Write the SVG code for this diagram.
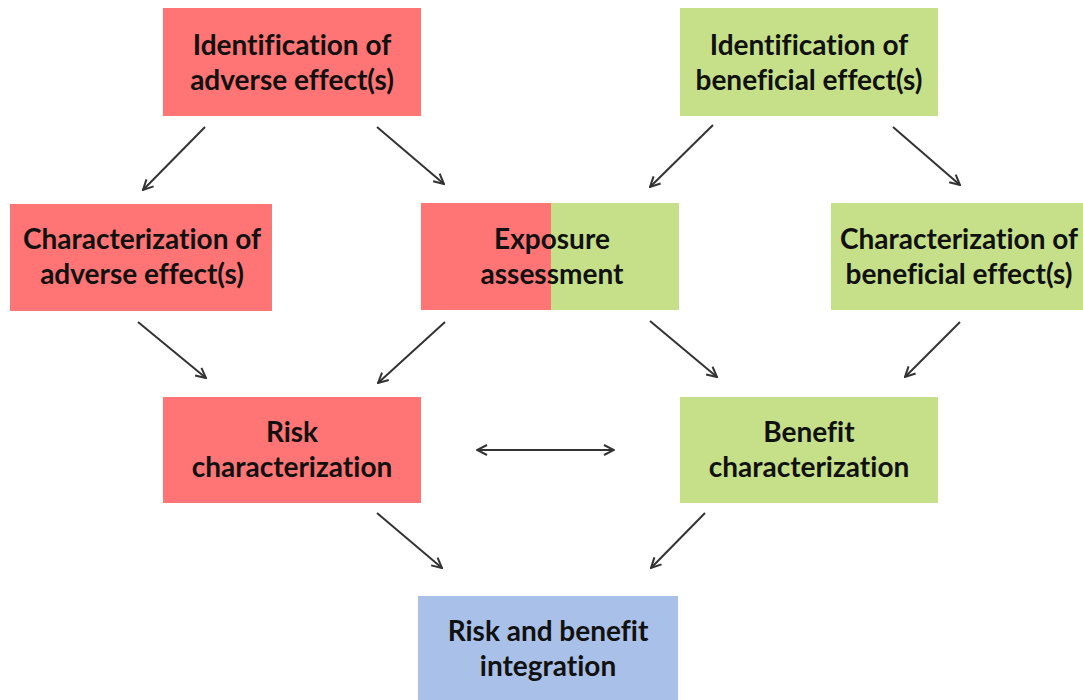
<svg xmlns="http://www.w3.org/2000/svg" width="1083" height="700" viewBox="0 0 1083 700">
<defs>
<style>
.t{font-family:Lato,"Open Sans","Liberation Sans",sans-serif;font-weight:bold;font-size:28px;fill:#111;text-anchor:middle;font-variant-ligatures:none}
.red{fill:#FF7474}
.green{fill:#C6E08A}
.blue{fill:#A9C0E8}
.c{stroke:#333;stroke-width:2;fill:none}
</style>
<marker id="ah" viewBox="0 0 12 12" refX="11" refY="6" markerWidth="12" markerHeight="12" markerUnits="userSpaceOnUse" orient="auto-start-reverse">
<path d="M1,1 L11,6 L1,11" fill="none" stroke="#333" stroke-width="2"/>
</marker>
</defs>
<rect width="1083" height="700" fill="#fff"/>
<g id="id-adverse">
<rect class="red" x="163" y="8" width="258" height="108"/>
<text class="t" x="292" y="55">Identification of</text>
<text class="t" x="292" y="90">adverse effect(s)</text>
</g>
<g id="id-beneficial">
<rect class="green" x="680" y="8" width="258" height="108"/>
<text class="t" x="809" y="55">Identification of</text>
<text class="t" x="809" y="90">beneficial effect(s)</text>
</g>
<g id="char-adverse">
<rect class="red" x="10" y="204" width="262" height="107"/>
<text class="t" x="142" y="249">Characterization of</text>
<text class="t" x="142" y="284">adverse effect(s)</text>
</g>
<g id="exposure">
<rect class="red" x="421" y="203" width="130" height="107"/>
<rect class="green" x="551" y="203" width="128" height="107"/>
<text class="t" x="552" y="249">Exposure</text>
<text class="t" x="552" y="284">assessment</text>
</g>
<g id="char-beneficial">
<rect class="green" x="831" y="203" width="260" height="107"/>
<text class="t" x="959" y="249">Characterization of</text>
<text class="t" x="959" y="284">beneficial effect(s)</text>
</g>
<g id="risk-char">
<rect class="red" x="163" y="397" width="258" height="106"/>
<text class="t" x="292" y="442">Risk</text>
<text class="t" x="292" y="477">characterization</text>
</g>
<g id="benefit-char">
<rect class="green" x="680" y="397" width="258" height="106"/>
<text class="t" x="809" y="442">Benefit</text>
<text class="t" x="809" y="477">characterization</text>
</g>
<g id="integration">
<rect class="blue" x="418" y="596" width="260" height="110"/>
<text class="t" x="548" y="641">Risk and benefit</text>
<text class="t" x="548" y="676">integration</text>
</g>
<g id="connectors">
<line class="c" x1="205" y1="127" x2="143" y2="190" marker-end="url(#ah)"/>
<line class="c" x1="377" y1="127" x2="444" y2="184" marker-end="url(#ah)"/>
<line class="c" x1="713" y1="125" x2="650" y2="187" marker-end="url(#ah)"/>
<line class="c" x1="893" y1="127" x2="960" y2="185" marker-end="url(#ah)"/>
<line class="c" x1="138" y1="322" x2="206" y2="378" marker-end="url(#ah)"/>
<line class="c" x1="445" y1="322" x2="378" y2="383" marker-end="url(#ah)"/>
<line class="c" x1="650" y1="321" x2="717" y2="377" marker-end="url(#ah)"/>
<line class="c" x1="960" y1="322" x2="905" y2="377" marker-end="url(#ah)"/>
<line class="c" x1="477" y1="450" x2="614" y2="450" marker-start="url(#ah)" marker-end="url(#ah)"/>
<line class="c" x1="377" y1="513" x2="442" y2="568" marker-end="url(#ah)"/>
<line class="c" x1="705" y1="513" x2="651" y2="568" marker-end="url(#ah)"/>
</g>
</svg>
